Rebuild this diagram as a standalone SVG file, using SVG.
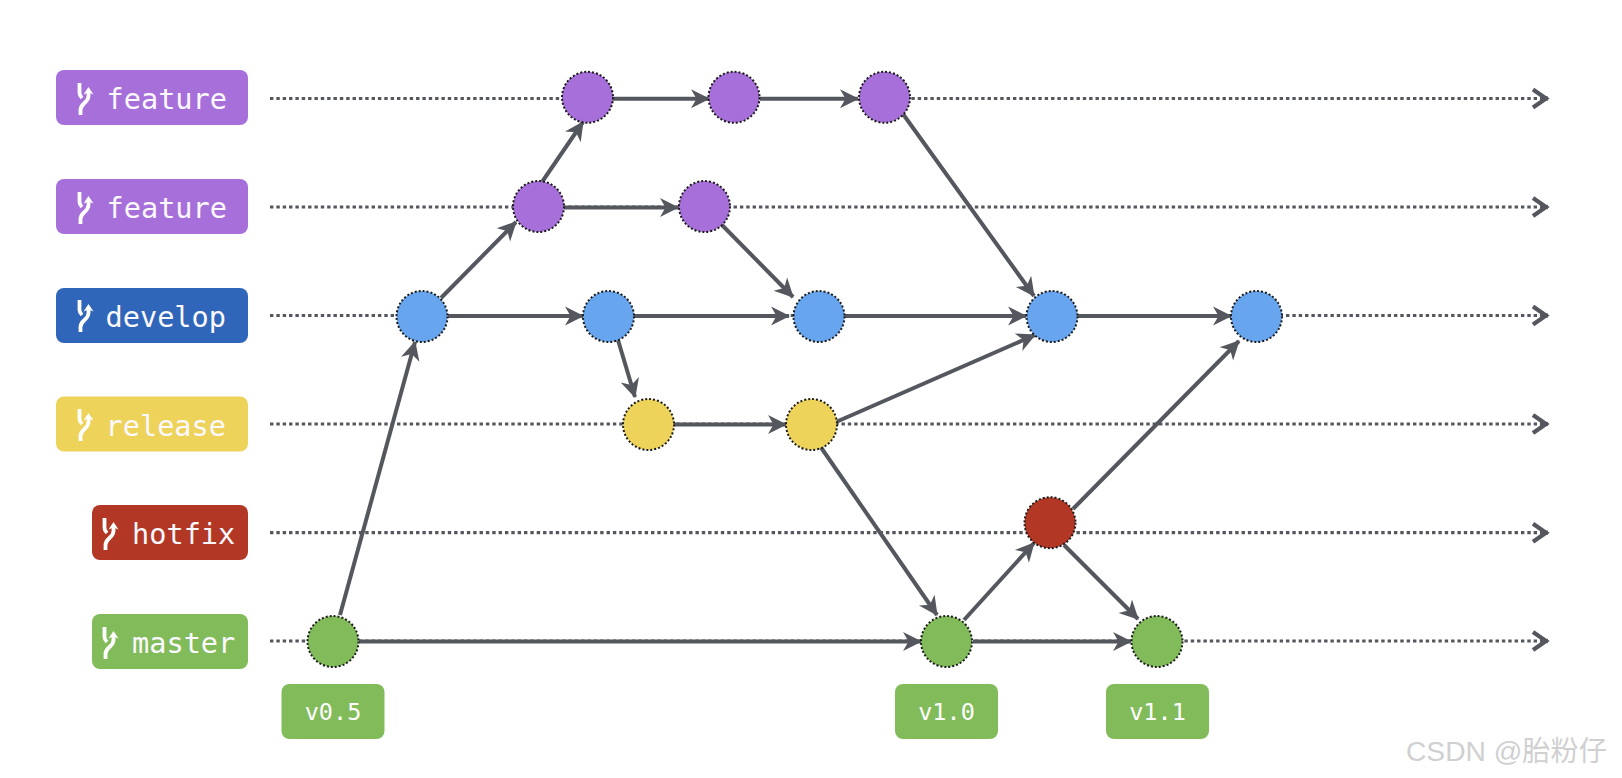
<svg xmlns="http://www.w3.org/2000/svg" width="1622" height="778" viewBox="0 0 1622 778">
<style>
text{font-family:"DejaVu Sans Mono","Liberation Mono",monospace;fill:#fff}
.lb{font-size:28.6px;font-weight:400;fill:#fbf8fe}
.tg{font-size:23.5px;text-anchor:middle}
.dot{stroke:#55575f;stroke-width:3.2;stroke-dasharray:3.4 2.95;fill:none}
.row{stroke:#55575f;stroke-width:4.2;fill:none;marker-end:url(#open)}
.e{stroke:#55575f;stroke-width:4;fill:none;marker-end:url(#arr)}
.n{stroke:#1c1c1c;stroke-width:2;stroke-dasharray:2 2}
.pu{fill:#a76fd9}.bl{fill:#68a5ef}.ye{fill:#eed35a}.re{fill:#b23725}.gr{fill:#82bc5a}
.ic{fill:none;stroke:#fff;stroke-width:3.8}
</style>
<defs>
<marker id="arr" markerUnits="userSpaceOnUse" markerWidth="24" markerHeight="24" refX="19" refY="11" orient="auto" viewBox="0 0 24 22"><path d="M1 1.5 L20 11 L1 20.5 L6.5 11 Z" fill="#55575f"/></marker>
<marker id="open" markerUnits="userSpaceOnUse" markerWidth="24" markerHeight="26" refX="20" refY="13" orient="auto" viewBox="0 0 24 26"><path d="M5 4 L18 13 L5 22" fill="none" stroke="#55575f" stroke-width="4.2"/></marker>
<g id="icon"><path class="ic" d="M80.5 115V110C80.5 103 88.5 103 88.5 96V90"/><path class="ic" d="M79.5 83V93C79.5 95 80.5 96.5 82 98"/><path d="M83.5 94.5L88.5 87L93.5 94.5L88.5 92.5Z" fill="#fff"/></g>
</defs>
<g id="connectors">
<g id="rows">
<path class="dot" d="M270 98.5H1544"/><path class="row" d="M1540 98.5H1548"/>
<path class="dot" d="M270 207H1544"/><path class="row" d="M1540 207H1548"/>
<path class="dot" d="M270 315.5H1544"/><path class="row" d="M1540 315.5H1548"/>
<path class="dot" d="M270 424H1544"/><path class="row" d="M1540 424H1548"/>
<path class="dot" d="M270 532.7H1544"/><path class="row" d="M1540 532.7H1548"/>
<path class="dot" d="M270 641H1544"/><path class="row" d="M1540 641H1548"/>
</g>
<path class="e" d="M340 615L415 342"/>
<path class="e" d="M441 298L516 222"/>
<path class="e" d="M542 182L583 122"/>
<path class="e" d="M612 98.7H709"/>
<path class="e" d="M760 98.7H858"/>
<path class="e" d="M564 207.5H678"/>
<path class="e" d="M721 224L793 297"/>
<path class="e" d="M903 114L1034 296"/>
<path class="e" d="M448 316H583"/>
<path class="e" d="M634 316H789"/>
<path class="e" d="M845 316H1026"/>
<path class="e" d="M1078 316H1231"/>
<path class="e" d="M618 340L635 397"/>
<path class="e" d="M674 424.5H786"/>
<path class="e" d="M836 422L1035 335"/>
<path class="e" d="M820 446L937 615"/>
<path class="e" d="M359 641.5H921"/>
<path class="e" d="M973 641.5H1131"/>
<path class="e" d="M964 620L1034 543"/>
<path class="e" d="M1064 545L1138 619"/>
<path class="e" d="M1073 509L1239 341"/>
</g>
<g id="n-f1a"><circle class="n pu" cx="587.5" cy="97.3" r="25.5"/></g>
<g id="n-f1b"><circle class="n pu" cx="734" cy="97.3" r="25.5"/></g>
<g id="n-f1c"><circle class="n pu" cx="884.5" cy="97.3" r="25.5"/></g>
<g id="n-f2a"><circle class="n pu" cx="538.5" cy="206.5" r="25.5"/></g>
<g id="n-f2b"><circle class="n pu" cx="704.5" cy="206.5" r="25.5"/></g>
<g id="n-d1"><circle class="n bl" cx="422" cy="316.5" r="25.5"/></g>
<g id="n-d2"><circle class="n bl" cx="608.5" cy="316.5" r="25.5"/></g>
<g id="n-d3"><circle class="n bl" cx="819" cy="316.5" r="25.5"/></g>
<g id="n-d4"><circle class="n bl" cx="1052" cy="316.5" r="25.5"/></g>
<g id="n-d5"><circle class="n bl" cx="1256.5" cy="316.5" r="25.5"/></g>
<g id="n-r1"><circle class="n ye" cx="648.5" cy="424.5" r="25.5"/></g>
<g id="n-r2"><circle class="n ye" cx="811.5" cy="424.5" r="25.5"/></g>
<g id="n-h1"><circle class="n re" cx="1050" cy="522.7" r="25.5"/></g>
<g id="n-m1"><circle class="n gr" cx="333" cy="641.5" r="25.5"/></g>
<g id="n-m2"><circle class="n gr" cx="946.5" cy="641.5" r="25.5"/></g>
<g id="n-m3"><circle class="n gr" cx="1157" cy="641.5" r="25.5"/></g>
<g id="l-feature1"><rect class="pu" x="56" y="70" width="192" height="55" rx="8"/><use href="#icon"/><text class="lb" x="106.5" y="109">feature</text></g>
<g id="l-feature2"><rect class="pu" x="56" y="179" width="192" height="55" rx="8"/><use href="#icon" y="109"/><text class="lb" x="106.5" y="218">feature</text></g>
<g id="l-develop"><rect fill="#2f66b9" x="56" y="288" width="192" height="55" rx="8"/><use href="#icon" y="217"/><text class="lb" x="105.5" y="327">develop</text></g>
<g id="l-release"><rect class="ye" x="56" y="396.5" width="192" height="55" rx="8"/><use href="#icon" y="326"/><text class="lb" x="105.5" y="436">release</text></g>
<g id="l-hotfix"><rect class="re" x="92" y="505" width="156" height="55" rx="8"/><use href="#icon" x="25" y="435"/><text class="lb" x="132" y="544">hotfix</text></g>
<g id="l-master"><rect class="gr" x="92" y="614" width="156" height="55" rx="8"/><use href="#icon" x="25" y="544"/><text class="lb" x="132" y="653">master</text></g>
<g id="t-05"><rect class="gr" x="281.5" y="684" width="103" height="55" rx="8"/><text class="tg" x="333" y="720">v0.5</text></g>
<g id="t-10"><rect class="gr" x="895" y="684" width="103" height="55" rx="8"/><text class="tg" x="946.5" y="720">v1.0</text></g>
<g id="t-11"><rect class="gr" x="1106" y="684" width="103" height="55" rx="8"/><text class="tg" x="1157.5" y="720">v1.1</text></g>
<text id="wm" x="1406" y="760.5" style="font-family:'Liberation Sans','Noto Sans CJK SC',sans-serif;fill:#d0d0d0;font-size:28.2px">CSDN @胎粉仔</text>
</svg>
